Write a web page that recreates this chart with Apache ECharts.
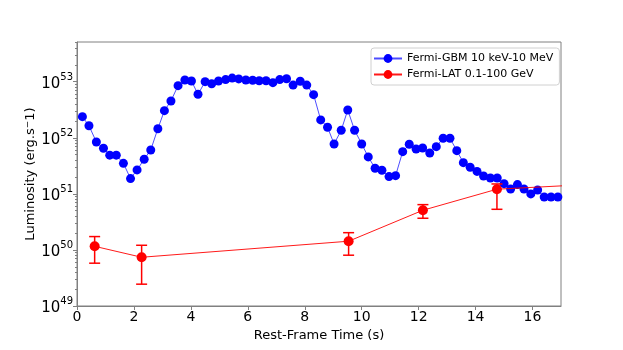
<!DOCTYPE html>
<html>
<head>
<meta charset="utf-8">
<script src="https://cdn.jsdelivr.net/npm/echarts@6/dist/echarts.min.js"></script>
<style>
html, body { margin: 0; padding: 0; background: #fff; }
#chart { width: 623px; height: 350px; }
</style>
</head>
<body>
<div id="chart"></div>
<script>
// Fermi-GBM light curve
var gbmTime = [0.19, 0.42, 0.68, 0.93, 1.15, 1.38, 1.63, 1.88, 2.11, 2.36,
	2.59, 2.84, 3.07, 3.30, 3.55, 3.79, 4.02, 4.25, 4.50, 4.73,
	4.97, 5.22, 5.45, 5.68, 5.93, 6.17, 6.40, 6.64, 6.88, 7.12,
	7.36, 7.59, 7.84, 8.07, 8.31, 8.56, 8.80, 9.03, 9.28, 9.51,
	9.75, 10.00, 10.23, 10.47, 10.71, 10.96, 11.19, 11.44, 11.67, 11.91,
	12.14, 12.39, 12.62, 12.86, 13.10, 13.34, 13.57, 13.81, 14.05, 14.28,
	14.52, 14.76, 15.00, 15.23, 15.47, 15.70, 15.94, 16.18, 16.41, 16.65, 16.89];
var gbmLum = [2.38e52, 1.64e52, 8.4e51, 6.5e51, 4.9e51, 4.9e51, 3.5e51, 1.87e51, 2.67e51, 4.14e51,
	6.06e51, 1.45e52, 3.04e52, 4.53e52, 8.5e52, 1.07e53, 1.03e53, 5.96e52, 1.0e53, 9.2e52,
	1.03e53, 1.09e53, 1.16e53, 1.12e53, 1.07e53, 1.06e53, 1.04e53, 1.04e53, 9.6e52, 1.09e53,
	1.13e53, 8.7e52, 1.02e53, 8.7e52, 5.87e52, 2.08e52, 1.54e52, 7.75e51, 1.36e52, 3.13e52,
	1.36e52, 7.75e51, 4.55e51, 2.86e51, 2.64e51, 2.03e51, 2.11e51, 5.65e51, 7.66e51, 6.3e51,
	6.58e51, 5.36e51, 6.94e51, 9.8e51, 9.8e51, 5.89e51, 3.6e51, 2.98e51, 2.51e51, 2.08e51,
	1.92e51, 1.92e51, 1.52e51, 1.22e51, 1.46e51, 1.22e51, 9.96e50, 1.17e51, 8.8e50, 8.8e50, 8.8e50];

// Fermi-LAT points (last one lies beyond the x range)
var latTime = [0.62, 2.27, 9.54, 12.15, 14.75, 20.0];
var latLum = [1.16e50, 7.4e49, 1.43e50, 5.1e50, 1.21e51, 1.66e51];
var latLo = [5.8e49, 2.45e49, 8.05e49, 3.67e50, 5.3e50, null];
var latHi = [1.73e50, 1.21e50, 2.03e50, 6.42e50, 1.5e51, null];

var yMajor = [1e49, 1e50, 1e51, 1e52, 1e53];
var xTicks = [0, 2, 4, 6, 8, 10, 12, 14, 16];

var FONT = '"DejaVu Sans", sans-serif';
var AXIS_COLOR = '#808080';

// minor ticks 2..9 x 10^n
var yMinor = [];
for (var e = 49; e <= 53; e++) {
	for (var m = 2; m <= 9; m++) {
		var v = m * Math.pow(10, e);
		if (v < 5.1e53) yMinor.push(v);
	}
}

var gbmData = [];
for (var i = 0; i < gbmTime.length; i++) gbmData.push([gbmTime[i], gbmLum[i]]);
var latData = [];
var errData = [];
for (var i = 0; i < latTime.length; i++) {
	latData.push([latTime[i], latLum[i]]);
	if (latLo[i] != null) errData.push([latTime[i], latLo[i], latHi[i]]);
}

var chart = echarts.init(document.getElementById('chart'));
var option = {
	animation: false,
	textStyle: { fontFamily: FONT },
	grid: {
		left: 77, right: 62, top: 42, bottom: 44,
		show: true, borderColor: AXIS_COLOR, borderWidth: 1
	},
	legend: {
		orient: 'vertical',
		left: 371, top: 48,
		padding: [5, 6, 5, 2],
		itemGap: 5,
		itemWidth: 28, itemHeight: 11,
		borderColor: '#d0d0d0', borderWidth: 1, borderRadius: 3,
		textStyle: { fontSize: 11, color: '#000', fontFamily: FONT },
		data: ['Fermi-GBM 10 keV-10 MeV', 'Fermi-LAT 0.1-100 GeV']
	},
	xAxis: {
		type: 'value',
		min: 0, max: 17, interval: 2,
		name: 'Rest-Frame Time (s)',
		nameLocation: 'middle',
		nameGap: 18,
		nameTextStyle: { fontSize: 13, color: '#000', fontFamily: FONT },
		splitLine: { show: false },
		axisLine: { lineStyle: { color: AXIS_COLOR } },
		axisTick: { length: 4, lineStyle: { color: AXIS_COLOR }, customValues: xTicks },
		axisLabel: { fontSize: 14, color: '#000', margin: 4, customValues: xTicks }
	},
	yAxis: [{
		type: 'log',
		min: 1e49, max: 5.1e53,
		logBase: 10,
		name: 'Luminosity (erg.s{sup|\u2212}1)',
		nameLocation: 'middle',
		nameGap: 39,
		nameMoveOverlap: false,
		nameTextStyle: {
			fontSize: 13, color: '#000', fontFamily: FONT,
			rich: { sup: { fontSize: 9, verticalAlign: 'top', color: '#000', padding: [0, 0, 6, 0] } }
		},
		splitLine: { show: false },
		axisLine: { lineStyle: { color: AXIS_COLOR } },
		axisTick: { length: 4, lineStyle: { color: AXIS_COLOR }, customValues: yMajor },
		axisLabel: {
			margin: 4,
			customValues: yMajor,
			formatter: function (v) {
				var p = Math.round(Math.log(v) / Math.LN10);
				return '{b|10}{s|' + p + '}';
			},
			rich: {
				b: { fontSize: 15, color: '#000', fontFamily: FONT, lineHeight: 18, verticalAlign: 'bottom' },
				s: { fontSize: 10, color: '#000', fontFamily: FONT, verticalAlign: 'top', padding: [0, 0, 9, 0] }
			}
		}
	}, {
		type: 'log',
		min: 1e49, max: 5.1e53,
		logBase: 10,
		position: 'left',
		splitLine: { show: false },
		axisLine: { show: false },
		axisLabel: { show: false },
		axisTick: { length: 2, lineStyle: { color: AXIS_COLOR }, customValues: yMinor }
	}],
	series: [{
		name: 'Fermi-GBM 10 keV-10 MeV',
		type: 'line',
		data: gbmData,
		symbol: 'circle',
		symbolSize: 9,
		itemStyle: { color: '#0000ff' },
		lineStyle: { color: '#0000ff', width: 1, opacity: 0.7 },
		z: 2
	}, {
		name: 'Fermi-LAT 0.1-100 GeV',
		type: 'line',
		data: latData,
		symbol: 'circle',
		symbolSize: 10,
		clip: true,
		itemStyle: { color: '#ff0000' },
		lineStyle: { color: '#ff0000', width: 1, opacity: 0.9 },
		z: 4
	}, {
		name: 'Fermi-LAT 0.1-100 GeV',
		type: 'custom',
		data: errData,
		clip: true,
		z: 3,
		renderItem: function (params, api) {
			var lo = api.coord([api.value(0), api.value(1)]);
			var hi = api.coord([api.value(0), api.value(2)]);
			var hw = 5.5;
			var st = { stroke: '#ff0000', lineWidth: 1.5 };
			return {
				type: 'group',
				children: [
					{ type: 'line', shape: { x1: lo[0], y1: lo[1], x2: hi[0], y2: hi[1] }, style: st },
					{ type: 'line', shape: { x1: lo[0] - hw, y1: lo[1], x2: lo[0] + hw, y2: lo[1] }, style: st },
					{ type: 'line', shape: { x1: hi[0] - hw, y1: hi[1], x2: hi[0] + hw, y2: hi[1] }, style: st }
				]
			};
		}
	}]
};
chart.setOption(option);
</script>
</body>
</html>
